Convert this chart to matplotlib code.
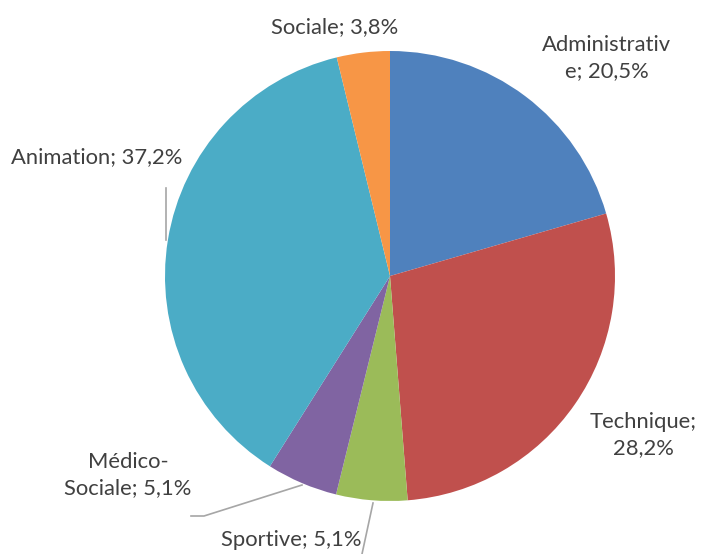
import matplotlib.pyplot as plt

categories = ['Administratif', 'Technique', 'Sportive', 'Médico-Sociale', 'Animation', 'Sociale']
shares = [20.5, 28.2, 5.1, 5.1, 37.2, 3.8]
label_texts = ['Administrativ\ne; 20,5%', 'Technique;\n28,2%', 'Sportive; 5,1%',
               'Médico-\nSociale; 5,1%', 'Animation; 37,2%', 'Sociale; 3,8%']
colors = ['#4F81BD', '#C0504D', '#9BBB59', '#8064A2', '#4BACC6', '#F79646']

W, H = 704, 554
cx, cy, r = 390, 276, 225

fig = plt.figure(figsize=(W / 100, H / 100), dpi=100)
ax = fig.add_axes([(cx - r) / W, (H - cy - r) / H, 2 * r / W, 2 * r / H])

ax.pie(shares, colors=colors, startangle=90, counterclock=False, radius=1,
       wedgeprops=dict(linewidth=0))
# pie() resets the limits, so set them afterwards
ax.set_xlim(-1, 1)
ax.set_ylim(-1, 1)
ax.axis('off')


def px(x, y):
    return (x - cx) / r, (cy - y) / r


# label centres (pixel positions)
label_pos = [(607, 58), (643, 435), (291, 540), (128, 475), (97, 157), (335, 27)]
for txt, (x, y) in zip(label_texts, label_pos):
    ax.text(*px(x, y), txt, ha='center', va='center', fontsize=15.8,
            family='Lato', color='#404040', linespacing=1.35, clip_on=False)

# leader lines
leaders = [
    [(166, 240), (166, 188)],
    [(302, 485), (204, 516), (191, 516)],
    [(373, 503), (362, 554)],
]
for pts in leaders:
    xs, ys = zip(*[px(x, y) for x, y in pts])
    ax.plot(xs, ys, color='#A6A6A6', lw=1.2, clip_on=False)

fig.savefig('out.png', dpi=100)
